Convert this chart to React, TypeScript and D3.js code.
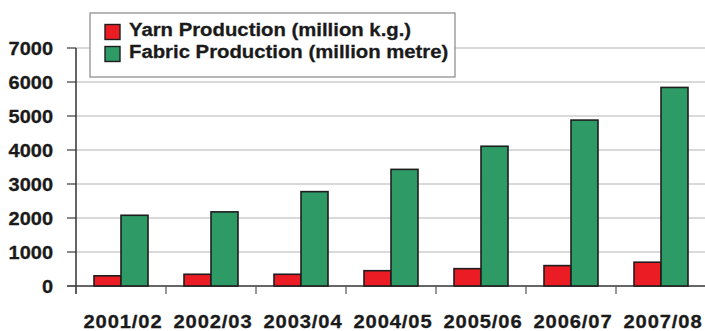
import React from "react";
import * as d3 from "d3";

const categories = ["2001/02", "2002/03", "2003/04", "2004/05", "2005/06", "2006/07", "2007/08"];
const yarnValues = [300, 345, 345, 450, 510, 600, 700];
const fabricValues = [2080, 2180, 2775, 3430, 4110, 4880, 5840];
const yTicks = [0, 1000, 2000, 3000, 4000, 5000, 6000, 7000];
const seriesKeys = ["yarn", "fabric"];
const seriesLabels = ["Yarn Production (million k.g.)", "Fabric Production (million metre)"];
const seriesColors = ["#ec1c24", "#2e9a66"];

const W = 705;
const H = 331;
const left = 76;
const right = 706;
const top = 48;
const bottom = 286;
const font = "'Liberation Sans', Arial, sans-serif";
const ink = "#1a1a1a";

export default function App() {
  const x0 = d3.scaleBand<string>().domain(categories).range([left, right]).paddingInner(0).paddingOuter(0);
  const x1 = d3
    .scaleBand<string>()
    .domain(seriesKeys)
    .range([0, x0.bandwidth()])
    .paddingInner(0)
    .paddingOuter(0.667);
  const y = d3.scaleLinear().domain([0, 7000]).range([bottom, top]);
  const values = [yarnValues, fabricValues];

  return (
    <svg width={W} height={H} style={{ position: "absolute", left: 0, top: 0, background: "#fff" }}>
      {/* horizontal gridlines */}
      {yTicks.map((t) => (
        <line
          key={"g" + t}
          x1={67}
          x2={W}
          y1={y(t)}
          y2={y(t)}
          stroke={t === 0 ? "#333" : "#b4b4b4"}
          strokeWidth={t === 0 ? 1.5 : 1.2}
        />
      ))}
      {yTicks.map((t) => (
        <line key={"yt" + t} x1={67} x2={left} y1={y(t)} y2={y(t)} stroke="#555" strokeWidth={1.2} />
      ))}
      {/* y axis */}
      <line x1={left} x2={left} y1={top} y2={bottom + 8} stroke="#333" strokeWidth={1.5} />
      {/* y tick labels, slightly widened */}
      {yTicks.map((t) => (
        <text
          key={"yl" + t}
          transform={`translate(53, ${y(t)}) scale(1.08, 1)`}
          dy="0.36em"
          textAnchor="end"
          fontFamily={font}
          fontWeight="bold"
          fontSize={18.5}
          fill={ink}
          stroke={ink}
          strokeWidth={0.3}
        >
          {t}
        </text>
      ))}
      {/* x category ticks */}
      {categories.map((c) => (
        <line
          key={"xt" + c}
          x1={x0(c)!}
          x2={x0(c)!}
          y1={bottom}
          y2={bottom + 8}
          stroke="#555"
          strokeWidth={1.2}
        />
      ))}
      {/* bars */}
      {categories.map((c, i) =>
        seriesKeys.map((k, s) => (
          <rect
            key={c + k}
            x={x0(c)! + x1(k)!}
            y={y(values[s][i])}
            width={x1.bandwidth()}
            height={bottom - y(values[s][i])}
            fill={seriesColors[s]}
            stroke="#1e1e1e"
            strokeWidth={1.6}
          />
        ))
      )}
      {/* x labels, widened */}
      {categories.map((c) => (
        <text
          key={"xl" + c}
          transform={`translate(${x0(c)! + x0.bandwidth() / 2 + 2}, 327.5) scale(1.12, 1)`}
          textAnchor="middle"
          fontFamily={font}
          fontWeight="bold"
          fontSize={18}
          letterSpacing={0.8}
          fill={ink}
          stroke={ink}
          strokeWidth={0.3}
        >
          {c}
        </text>
      ))}
      {/* legend */}
      <rect x={90} y={13} width={365} height={64} fill="#fff" stroke="#888" strokeWidth={1.2} />
      {seriesKeys.map((k, s) => (
        <g key={"lg" + k} transform={`translate(105, ${24.5 + s * 22})`}>
          <rect x={0} y={0} width={15} height={15} fill={seriesColors[s]} stroke="#1e1e1e" strokeWidth={1.4} />
          <text
            transform="translate(24, 11.5) scale(1.07, 1)"
            fontFamily={font}
            fontWeight="bold"
            fontSize={19}
            fill={ink}
            stroke={ink}
            strokeWidth={0.3}
          >
            {seriesLabels[s]}
          </text>
        </g>
      ))}
    </svg>
  );
}
